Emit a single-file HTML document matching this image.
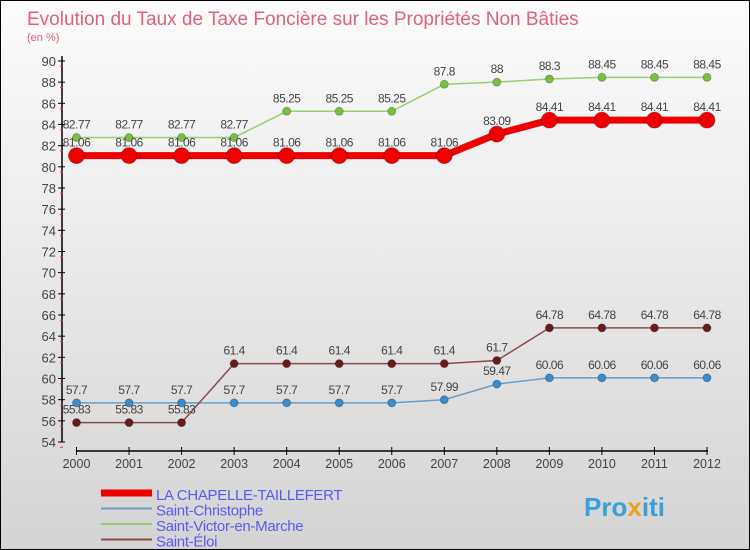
<!DOCTYPE html>
<html><head><meta charset="utf-8"><style>
body{margin:0;}
#c{position:relative;width:750px;height:550px;box-sizing:border-box;border:1px solid #000;background:linear-gradient(#fcfcfc,#d4d4d4);font-family:"Liberation Sans",sans-serif;overflow:hidden}
</style></head><body>
<div id="c">
<svg width="750" height="550" style="position:absolute;left:0;top:0" id="svg">
<text x="26" y="24" font-size="19" fill="#e0607a">Evolution du Taux de Taxe Foncière sur les Propriétés Non Bâties</text>
<text x="26" y="40" font-size="11" fill="#e0607a">(en %)</text>
<g id="axes"></g><g id="series"></g><g id="legend"></g>
<text x="583" y="515" font-size="26" font-weight="bold" fill="#3aa0d8">Pro<tspan fill="#f0a020">x</tspan>iti</text>
</svg>
</div>
<script>
const years=[2000,2001,2002,2003,2004,2005,2006,2007,2008,2009,2010,2011,2012];
const yTicks=[54,56,58,60,62,64,66,68,70,72,74,76,78,80,82,84,86,88,90];
const names=["LA CHAPELLE-TAILLEFERT","Saint-Christophe","Saint-Victor-en-Marche","Saint-Éloi"];
const chapelle=[81.06,81.06,81.06,81.06,81.06,81.06,81.06,81.06,83.09,84.41,84.41,84.41,84.41];
const christophe=[57.7,57.7,57.7,57.7,57.7,57.7,57.7,57.99,59.47,60.06,60.06,60.06,60.06];
const victor=[82.77,82.77,82.77,82.77,85.25,85.25,85.25,87.8,88,88.3,88.45,88.45,88.45];
const eloi=[55.83,55.83,55.83,61.4,61.4,61.4,61.4,61.4,61.7,64.78,64.78,64.78,64.78];
const NS="http://www.w3.org/2000/svg";
const X=i=>75.5+i*(706-75.5)/(years.length-1);
const Y=v=>441-(v-54)*(441-60)/36;
function mk(t,a,p){const e=document.createElementNS(NS,t);for(const k in a)e.setAttribute(k,a[k]);p.appendChild(e);return e;}
const ax=document.getElementById('axes');
let l=mk('line',{x1:61,y1:55,x2:61,y2:441,stroke:'#000','stroke-width':1.5},ax);

yTicks.forEach(v=>{const y=Y(v);
 mk('line',{x1:57,y1:y,x2:64,y2:y,stroke:'#000'},ax);
 mk('line',{x1:59,y1:y+5.3,x2:62,y2:y+5.3,stroke:'#e33'},ax);
 const t=mk('text',{x:55,y:y+5,'text-anchor':'end','font-size':13,fill:'#444'},ax);t.textContent=v;
 });
l=mk('line',{x1:75,y1:450,x2:707,y2:450,stroke:'#000','stroke-width':1.5},ax);

years.forEach((yr,i)=>{const x=X(i);
 mk('line',{x1:x,y1:446,x2:x,y2:454,stroke:'#000'},ax);
 const t=mk('text',{x:x,y:467,'text-anchor':'middle','font-size':12.5,fill:'#444'},ax);t.textContent=yr;
 });
const sr=document.getElementById('series');
const defs=[[christophe,'#6a9ec8','#3a8ccc',1.5,4],[eloi,'#8a4a4a','#6a1a1a',1.5,4],[victor,'#96d070','#7ac040',1.5,4],[chapelle,'#e00','#e00',7,8]];
const sn=['series-saint-christophe','series-saint-eloi','series-saint-victor','series-la-chapelle'];
defs.forEach((d,k)=>{const [vals,lc,pc,w,r]=d;
 const g=mk('g',{},sr);
 const p=mk('polyline',{points:vals.map((v,i)=>X(i)+','+Y(v)).join(' '),fill:'none',stroke:lc,'stroke-width':w},g);
 
 vals.forEach((v,i)=>{const c=mk('circle',{cx:X(i),cy:Y(v),r:r,fill:pc,stroke:'rgba(0,0,0,0.25)'},g);
  
  const t=mk('text',{x:X(i),y:Y(v)-9,'text-anchor':'middle','font-size':12,fill:'#444','letter-spacing':'-0.5'},g);
  t.textContent=String(v);
  });
});
const lg=document.getElementById('legend');
const lcols=['#e00','#6a9ec8','#96d070','#8a4a4a'],lw=[7,2,2,2];
names.forEach((n,i)=>{const y=492+i*15.5;
 const g=mk('g',{},lg);
 mk('line',{x1:100,y1:y,x2:151,y2:y,stroke:lcols[i],'stroke-width':lw[i]},g);
 const t=mk('text',{x:155,y:y+7,'font-size':15,fill:'#5a5af0','letter-spacing':'-0.3'},g);t.textContent=n;});
</script>
</body></html>
